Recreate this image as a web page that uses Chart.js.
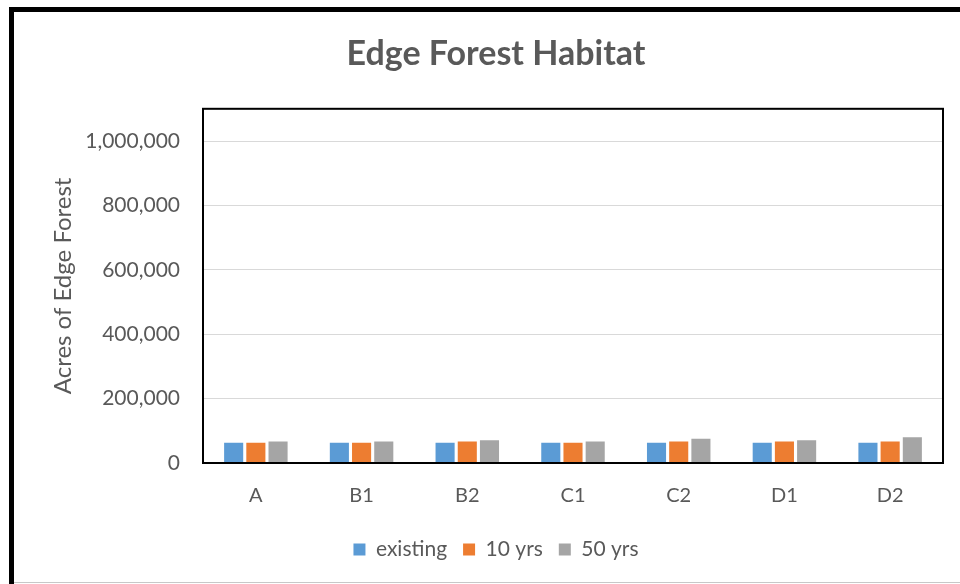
<!DOCTYPE html>
<html>
<head>
<meta charset="utf-8">
<script src="https://cdn.jsdelivr.net/npm/chart.js@4/dist/chart.umd.min.js"></script>
<style>
  html, body { margin: 0; padding: 0; background: #fff; }
  #wrap { position: relative; width: 960px; height: 584px; overflow: hidden; }
  #frameTop { position: absolute; left: 9px; top: 7px; width: 951px; height: 5px; background: #000; }
  #frameLeft { position: absolute; left: 9px; top: 7px; width: 5px; height: 577px; background: #000; }
  #frameBottom { position: absolute; left: 14px; top: 582px; width: 946px; height: 1px; background: #c8c8c8; }
  canvas { position: absolute; left: 0; top: 0; }
</style>
</head>
<body>
<div id="wrap">
  <canvas id="c" width="960" height="584"></canvas>
  <div id="frameTop"></div>
  <div id="frameLeft"></div>
  <div id="frameBottom"></div>
</div>
<script>
const categories = ["A", "B1", "B2", "C1", "C2", "D1", "D2"];
const existing = [63000, 63000, 63000, 63000, 63000, 63000, 63000];
const tenYears = [63000, 63000, 67000, 63000, 67000, 67000, 67000];
const fiftyYears = [67000, 67000, 71000, 67000, 75000, 71000, 80000];
const seriesNames = ["existing", "10 yrs", "50 yrs"];
const yTickValues = [0, 200000, 400000, 600000, 800000, 1000000];

const FONT = "Lato, 'Open Sans', sans-serif";
const TXT = "#595959";

const plotBorder = {
  id: "plotBorder",
  afterDraw(chart) {
    const a = chart.chartArea, ctx = chart.ctx;
    ctx.save();
    ctx.strokeStyle = "#000";
    ctx.lineWidth = 2;
    ctx.strokeRect(a.left, a.top, a.right - a.left, a.bottom - a.top);
    ctx.restore();
  }
};

new Chart(document.getElementById("c"), {
  type: "bar",
  data: {
    labels: categories,
    datasets: [
      { label: seriesNames[0], data: existing, backgroundColor: "#5B9BD5" },
      { label: seriesNames[1], data: tenYears, backgroundColor: "#ED7D31" },
      { label: seriesNames[2], data: fiftyYears, backgroundColor: "#A5A5A5" }
    ]
  },
  options: {
    responsive: false,
    animation: false,
    layout: { padding: { left: 49, right: 17, top: 0, bottom: 14 } },
    datasets: { bar: { categoryPercentage: 0.63, barPercentage: 0.86 } },
    plugins: {
      title: {
        display: true,
        text: "Edge Forest Habitat",
        color: TXT,
        font: { family: FONT, size: 34, weight: "bold" },
        padding: { top: 34, bottom: 34 }
      },
      legend: {
        position: "bottom",
        labels: {
          color: TXT,
          font: { family: FONT, size: 21 },
          boxWidth: 12,
          boxHeight: 12,
          padding: 16
        }
      },
      tooltip: { enabled: false }
    },
    scales: {
      x: {
        grid: { display: false },
        border: { display: false },
        ticks: { color: TXT, font: { family: FONT, size: 20 }, padding: 13 },
        afterFit(s) { s.height = 60; }
      },
      y: {
        min: 0,
        max: 1100000,
        afterBuildTicks(s) { s.ticks = yTickValues.map(v => ({ value: v })); },
        grid: { color: "#D9D9D9", lineWidth: 1, drawTicks: false },
        border: { display: false },
        ticks: {
          color: TXT,
          font: { family: FONT, size: 21 },
          padding: 23,
          callback: v => v.toLocaleString("en-US")
        },
        title: {
          display: true,
          text: "Acres of Edge Forest",
          color: TXT,
          font: { family: FONT, size: 24 },
          padding: { top: 0, bottom: 0 }
        },
        afterFit(s) { s.width = 154; }
      }
    }
  },
  plugins: [plotBorder]
});
</script>
</body>
</html>
